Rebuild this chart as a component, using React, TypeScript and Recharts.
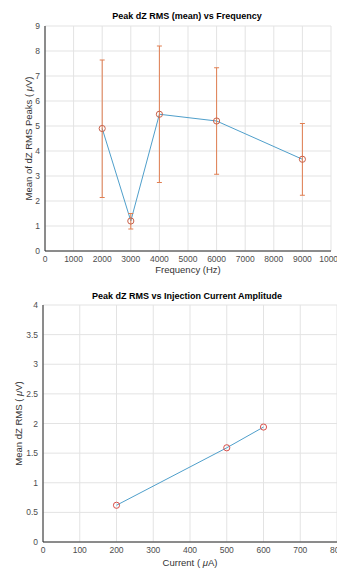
import React from "react";
import { CartesianGrid, ComposedChart, ErrorBar, Line, Scatter, XAxis, YAxis, ZAxis } from "recharts";

const freqs = [2000, 3000, 4000, 6000, 9000];
const freqMeans = [4.9, 1.2, 5.47, 5.2, 3.67];
const freqUpper = [7.64, 1.5, 8.2, 7.33, 5.1];
const freqLower = [2.14, 0.88, 2.74, 3.07, 2.23];
const freqTicks = [0, 1000, 2000, 3000, 4000, 5000, 6000, 7000, 8000, 9000, 10000];
const peakTicks = [0, 1, 2, 3, 4, 5, 6, 7, 8, 9];

const currents = [200, 500, 600];
const currentMeans = [0.62, 1.59, 1.94];
const currentTicks = [0, 100, 200, 300, 400, 500, 600, 700, 800];
const rmsTicks = [0, 0.5, 1, 1.5, 2, 2.5, 3, 3.5, 4];

const freqData = freqs.map((f, i) => ({
  freq: f,
  mean: freqMeans[i],
  err: [freqMeans[i] - freqLower[i], freqUpper[i] - freqMeans[i]],
}));

const currentData = currents.map((c, i) => ({ current: c, mean: currentMeans[i] }));

const FONT = "'Liberation Sans', Arial, sans-serif";
const tickStyle = { fontSize: 8.5, fill: "#4d4d4d", fontFamily: FONT };
const axisStroke = "#262626";
const gridStroke = "#e3e3e3";

function YTitle(props: any) {
  const vb = props.viewBox || { x: 0, y: 0, width: 0, height: 0 };
  const x = vb.x + props.dx;
  const y = vb.y + vb.height / 2;
  return (
    <text
      x={x}
      y={y}
      transform={`rotate(-90, ${x}, ${y})`}
      textAnchor="middle"
      dominantBaseline="central"
      fontSize={9.5}
      fill="#333"
      fontFamily={FONT}
    >
      {props.text} ( <tspan fontStyle="italic">μ</tspan>V)
    </text>
  );
}

function XTitle(props: any) {
  const vb = props.viewBox || { x: 0, y: 0, width: 0, height: 0 };
  return (
    <text
      x={vb.x + vb.width / 2}
      y={vb.y + props.dy}
      textAnchor="middle"
      dominantBaseline="central"
      fontSize={9.5}
      fill="#333"
      fontFamily={FONT}
    >
      {props.children}
    </text>
  );
}

function Title({ text }: { text: string }) {
  return (
    <div
      style={{
        position: "absolute",
        left: 0,
        width: "100%",
        textAlign: "center",
        fontFamily: FONT,
        fontWeight: "bold",
        fontSize: 9,
        color: "#000",
      }}
    >
      {text}
    </div>
  );
}

export default function App() {
  return (
    <div style={{ position: "absolute", left: 0, top: 0, width: 337, height: 569, background: "#fff" }}>
      <div style={{ position: "absolute", left: 0, top: 0, width: 337, height: 280 }}>
        <div style={{ position: "absolute", left: 32, top: 11, width: 310 }}>
          <Title text="Peak dZ RMS (mean) vs Frequency" />
        </div>
        <ComposedChart width={337} height={280} data={freqData} margin={{ top: 26, right: 6, left: 0, bottom: 0 }}>
          <CartesianGrid stroke={gridStroke} />
          <XAxis
            dataKey="freq"
            type="number"
            domain={[0, 10000]}
            ticks={freqTicks}
            height={29}
            stroke={axisStroke}
            tickLine={false}
            tickSize={0}
            tickMargin={5}
            tick={tickStyle}
            interval={0}
            label={<XTitle dy={18}>Frequency (Hz)</XTitle>}
          />
          <YAxis
            type="number"
            domain={[0, 9]}
            ticks={peakTicks}
            width={45}
            stroke={axisStroke}
            tickLine={false}
            tickSize={0}
            tickMargin={5}
            tick={tickStyle}
            interval={0}
            label={<YTitle dx={28} text="Mean of dZ RMS Peaks" />}
          />
          <ZAxis range={[30, 30]} />
          <Line dataKey="mean" stroke="#4f9fcb" strokeWidth={1} dot={false} isAnimationActive={false} />
          <Scatter dataKey="mean" fill="none" stroke="#c8614a" strokeWidth={1} isAnimationActive={false}>
            <ErrorBar dataKey="err" direction="y" width={2.5} stroke="#e07f52" strokeWidth={1} />
          </Scatter>
        </ComposedChart>
      </div>

      <div style={{ position: "absolute", left: 0, top: 280, width: 337, height: 289 }}>
        <div style={{ position: "absolute", left: 32, top: 11, width: 310 }}>
          <Title text="Peak dZ RMS vs Injection Current Amplitude" />
        </div>
        <ComposedChart width={337} height={289} data={currentData} margin={{ top: 25, right: 0, left: 0, bottom: 0 }}>
          <CartesianGrid stroke={gridStroke} />
          <XAxis
            dataKey="current"
            type="number"
            domain={[0, 800]}
            ticks={currentTicks}
            height={27}
            stroke={axisStroke}
            tickLine={false}
            tickSize={0}
            tickMargin={5}
            tick={tickStyle}
            interval={0}
            label={<XTitle dy={20}>Current ( <tspan fontStyle="italic">μ</tspan>A)</XTitle>}
          />
          <YAxis
            type="number"
            domain={[0, 4]}
            ticks={rmsTicks}
            width={43}
            stroke={axisStroke}
            tickLine={false}
            tickSize={0}
            tickMargin={5}
            tick={tickStyle}
            interval={0}
            label={<YTitle dx={18} text="Mean dZ RMS" />}
          />
          <ZAxis range={[30, 30]} />
          <Line dataKey="mean" stroke="#4f9fcb" strokeWidth={1} dot={false} isAnimationActive={false} />
          <Scatter dataKey="mean" fill="none" stroke="#d9504a" strokeWidth={1} isAnimationActive={false} />
        </ComposedChart>
      </div>
    </div>
  );
}
